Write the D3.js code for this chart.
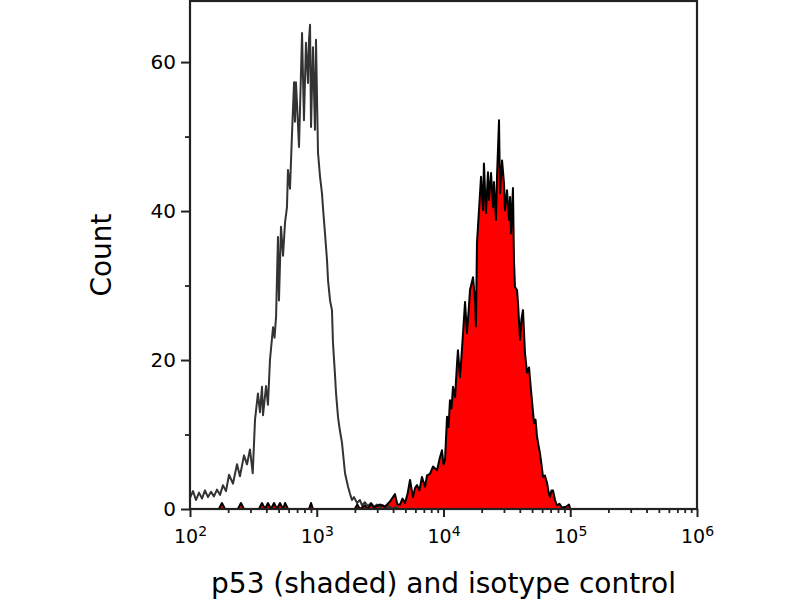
<!DOCTYPE html>
<html>
<head>
<meta charset="utf-8">
<script src="https://cdn.jsdelivr.net/npm/d3@7"></script>
<style>
    body { margin: 0; background: #fff; }
    svg text { font-family: "DejaVu Sans", sans-serif; fill: #000; }
</style>
</head>
<body>
<svg id="chart" width="800" height="600"></svg>
<script>
// isotype control histogram (log10 of intensity, count)
const isoExp = [2.000,2.024,2.047,2.071,2.095,2.118,2.142,2.166,2.189,2.213,2.237,2.260,2.284,2.308,2.339,2.371,2.394,2.426,2.450,2.473,
    2.495,2.513,2.536,2.552,2.568,2.576,2.600,2.615,2.631,2.655,2.667,2.679,2.694,2.702,2.718,2.734,2.750,2.765,2.773,2.789,
    2.805,2.821,2.828,2.836,2.844,2.860,2.884,2.899,2.915,2.931,2.939,2.947,2.955,2.970,2.986,2.994,3.010,3.026,3.041,3.049,
    3.065,3.081,3.089,3.105,3.120,3.128,3.144,3.152,3.168,3.183,3.199,3.223,3.247,3.263,3.278,3.294,3.318,3.341,3.357,3.380,
    3.404,3.428,3.452,3.475,3.499,3.523,3.547,3.570,3.594,3.620,3.650];
const isoCount = [1.5,2.4,1.2,2.2,1.4,2.5,1.6,2.3,1.7,2.6,1.9,3.2,2.4,4.6,3.4,6.0,4.4,7.2,6.0,8.0,
    4.8,12.0,15.5,13.0,16.4,12.6,16.5,14.0,20.0,24.4,23.0,25.8,36.5,28.0,37.9,34.0,38.5,40.5,45.5,43.0,
    50.5,57.3,52.0,57.3,54.5,48.6,63.9,52.2,62.6,57.2,63.0,65.0,51.3,62.0,50.9,63.0,47.8,44.6,42.4,40.5,
    37.0,33.4,30.7,28.0,26.7,22.3,18.0,15.6,12.3,10.5,8.9,4.8,3.0,2.0,1.2,1.6,0.8,1.2,0.5,0.9,
    0.4,0.8,0.3,0.6,0.2,0.5,0.0,0.4,0.0,0.3,0.0];

// p53 stained histogram (shaded)
const p53Exp = [2.000,2.228,2.252,2.276,2.378,2.402,2.426,2.544,2.568,2.592,2.615,2.639,2.663,2.686,2.710,2.734,2.750,2.773,2.939,2.955,
    2.970,3.300,3.320,3.340,3.380,3.400,3.430,3.450,3.499,3.538,3.578,3.617,3.636,3.657,3.676,3.696,3.716,3.736,3.759,3.775,
    3.791,3.810,3.830,3.854,3.870,3.893,3.917,3.949,3.970,3.988,4.000,4.012,4.028,4.040,4.051,4.063,4.075,4.091,4.107,4.114,
    4.130,4.142,4.154,4.170,4.185,4.200,4.209,4.233,4.249,4.256,4.264,4.280,4.296,4.312,4.319,4.335,4.351,4.359,4.375,4.391,
    4.398,4.414,4.422,4.438,4.446,4.462,4.477,4.485,4.501,4.517,4.525,4.533,4.548,4.556,4.564,4.580,4.588,4.604,4.615,4.627,
    4.643,4.659,4.675,4.690,4.698,4.714,4.726,4.738,4.750,4.761,4.773,4.785,4.800,4.817,4.830,4.840,4.852,4.864,4.880,4.895,
    4.915,4.935,4.966,4.990,5.000,6.000];
const p53Count = [0,0,0.8,0,0,0.8,0,0,0.8,0,0.8,0,0.8,0,0.8,0,0.8,0,0,0.8,
    0,0,0.6,0,0.5,0,0.7,0.2,0.6,0.3,1.0,2.0,0.6,0.6,1.4,0.8,2.0,3.9,1.6,2.8,
    3.2,2.5,4.3,3.0,4.5,4.7,5.7,5.2,6.8,7.9,6.0,6.6,12.4,11.0,14.6,13.5,16.4,15.0,19.6,21.3,
    17.7,20.5,23.6,27.8,23.6,27.0,29.4,31.1,28.0,24.5,35.7,40.1,44.6,40.1,46.4,39.7,45.2,41.5,45.1,40.5,
    43.9,38.8,44.6,52.2,42.4,46.8,43.8,40.1,42.8,38.8,41.9,37.0,43.1,33.4,29.8,29.4,27.6,22.7,25.5,26.7,
    20.9,18.3,19.0,16.0,14.6,11.5,12.0,9.7,8.5,7.5,6.0,4.3,4.5,3.5,2.2,1.6,2.5,2.5,1.2,0.5,
    0.7,0.2,0.3,0.6,0,0];

const xDecades = [1e2, 1e3, 1e4, 1e5, 1e6];
const yMajor = [0, 20, 40, 60];
const yMinor = [10, 30, 50];
const xTitle = 'p53 (shaded) and isotype control';
const yTitle = 'Count';

const plotLeft = 190, plotRight = 697, plotTop = 1, plotBottom = 509;

const svg = d3.select('#chart');

const x = d3.scaleLog().domain([1e2, 1e6]).range([plotLeft, plotRight]);
const y = d3.scaleLinear().domain([0, 68.2]).range([plotBottom, plotTop]);

const toPoints = (exps, counts) => d3.zip(exps, counts).map(([e, c]) => ({v: Math.pow(10, e), c}));
const iso = toPoints(isoExp, isoCount);
const p53 = toPoints(p53Exp, p53Count);

const line = d3.line().x((d) => x(d.v)).y((d) => y(d.c));
const area = d3.area().x((d) => x(d.v)).y0(y(0)).y1((d) => y(d.c));

// shaded p53 histogram
svg.append('path')
    .datum(p53)
    .attr('d', area)
    .attr('fill', '#ff0000');

// isotype outline
svg.append('path')
    .datum(iso)
    .attr('d', line)
    .attr('fill', 'none')
    .attr('stroke', '#333')
    .attr('stroke-width', 2)
    .attr('stroke-linejoin', 'round');

svg.append('path')
    .datum(p53)
    .attr('d', line)
    .attr('fill', 'none')
    .attr('stroke', '#000')
    .attr('stroke-width', 2)
    .attr('stroke-linejoin', 'round');

// minor x ticks: 2..9 in every decade
const xMinor = [];
xDecades.slice(0, -1).forEach((d) => {
    for (let k = 2; k <= 9; k++) xMinor.push(d * k);
});

svg.append('g')
    .attr('transform', `translate(0,${plotBottom})`)
    .call(d3.axisBottom(x).tickValues(xMinor).tickSize(4).tickFormat(''))
    .call((g) => g.select('.domain').remove())
    .selectAll('line').attr('stroke', '#222').attr('stroke-width', 1.8);

const xAxis = svg.append('g')
    .attr('transform', `translate(0,${plotBottom})`)
    .call(d3.axisBottom(x).tickValues(xDecades).tickSize(8).tickSizeOuter(0));
xAxis.select('.domain').remove();
xAxis.selectAll('line').attr('stroke', '#222').attr('stroke-width', 2);
xAxis.selectAll('.tick text')
    .text(null)
    .attr('y', 34)
    .attr('dy', 0)
    .attr('font-size', 19)
    .each(function (d) {
        const t = d3.select(this);
        t.append('tspan').text('10');
        t.append('tspan').attr('dy', -7).attr('font-size', 14).text(Math.round(Math.log10(d)));
    });

// y axis
svg.append('g')
    .attr('transform', `translate(${plotLeft},0)`)
    .call(d3.axisLeft(y).tickValues(yMinor).tickSize(5).tickFormat(''))
    .call((g) => g.select('.domain').remove())
    .selectAll('line').attr('stroke', '#222').attr('stroke-width', 1.8);

const yAxis = svg.append('g')
    .attr('transform', `translate(${plotLeft},0)`)
    .call(d3.axisLeft(y).tickValues(yMajor).tickSize(9).tickPadding(5).tickFormat(d3.format('d')));
yAxis.select('.domain').remove();
yAxis.selectAll('line').attr('stroke', '#222').attr('stroke-width', 2);
yAxis.selectAll('text').attr('font-size', 20);

// frame
svg.append('rect')
    .attr('x', plotLeft)
    .attr('y', plotTop)
    .attr('width', plotRight - plotLeft)
    .attr('height', plotBottom - plotTop)
    .attr('fill', 'none')
    .attr('stroke', '#222')
    .attr('stroke-width', 2.2);

// titles
svg.append('text')
    .attr('x', (plotLeft + plotRight) / 2)
    .attr('y', 593)
    .attr('text-anchor', 'middle')
    .attr('font-size', 28)
    .text(xTitle);

svg.append('text')
    .attr('transform', `translate(111,${(plotTop + plotBottom) / 2}) rotate(-90)`)
    .attr('text-anchor', 'middle')
    .attr('font-size', 28)
    .text(yTitle);
</script>
</body>
</html>
